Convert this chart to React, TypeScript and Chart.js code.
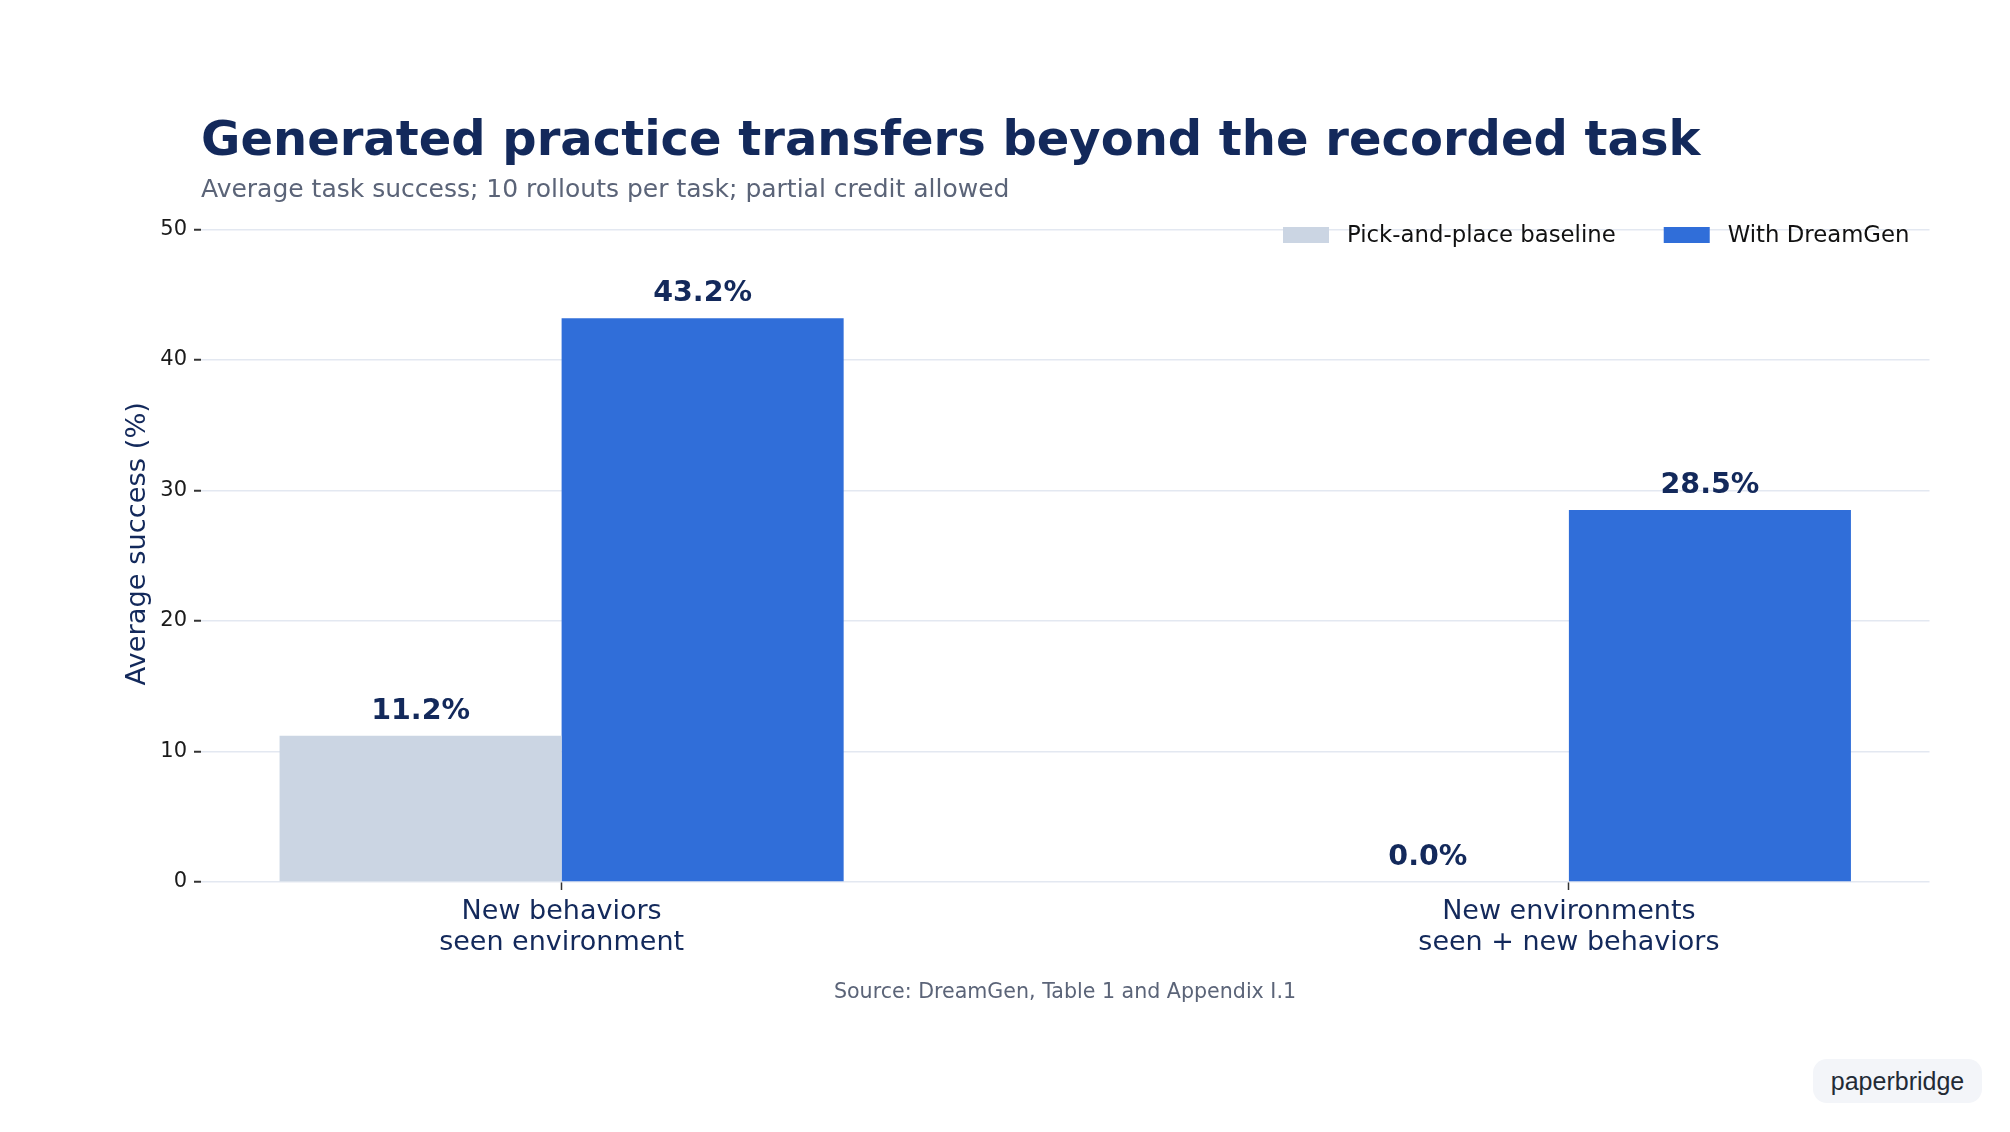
import React, { useEffect, useRef } from "react";
import { Chart, registerables } from "chart.js";

Chart.register(...registerables);

const categories: string[][] = [
  ["New behaviors", "seen environment"],
  ["New environments", "seen + new behaviors"],
];
const categoryPositions = [0, 1];
const seriesNames = ["Pick-and-place baseline", "With DreamGen"];
const baselineValues = [11.2, 0.0];
const dreamgenValues = [43.2, 28.5];
const yTicks = [0, 10, 20, 30, 40, 50];
const yAxisTitle = "Average success (%)";

const FONT = "'DejaVu Sans', sans-serif";
const NAVY = "#13295b";
const GREY_BAR = "#cbd5e3";
const BLUE_BAR = "#306ed9";

const valueLabels = {
  id: "valueLabels",
  afterDatasetsDraw(chart: any) {
    const ctx = chart.ctx;
    ctx.save();
    ctx.font = `bold 28.5px ${FONT}`;
    ctx.fillStyle = NAVY;
    ctx.textAlign = "center";
    ctx.textBaseline = "middle";
    chart.data.datasets.forEach((ds: any, di: number) => {
      const meta = chart.getDatasetMeta(di);
      meta.data.forEach((el: any, i: number) => {
        const v = ds.data[i].y;
        ctx.fillText(`${v.toFixed(1)}%`, el.x, el.y - 24.5);
      });
    });
    ctx.restore();
  },
};

const yTitle = {
  id: "yTitle",
  afterDraw(chart: any) {
    const ctx = chart.ctx;
    const area = chart.chartArea;
    ctx.save();
    ctx.font = `27.3px ${FONT}`;
    ctx.fillStyle = NAVY;
    ctx.textAlign = "center";
    ctx.textBaseline = "middle";
    ctx.translate(138, (area.top + area.bottom) / 2 - 12);
    ctx.rotate(-Math.PI / 2);
    ctx.fillText(yAxisTitle, 0, 0);
    ctx.restore();
  },
};

const topLegend = {
  id: "topLegend",
  afterDraw(chart: any) {
    const ctx = chart.ctx;
    const area = chart.chartArea;
    ctx.save();
    ctx.font = `22.8px ${FONT}`;
    ctx.textBaseline = "middle";
    ctx.textAlign = "left";
    const boxW = 46;
    const boxH = 16;
    const gapBoxText = 18;
    const gapItems = 48;
    const cy = area.top + 5.5;
    const items = chart.data.datasets.map((ds: any) => ({
      label: ds.label,
      color: ds.backgroundColor,
      w: ctx.measureText(ds.label).width,
    }));
    let total = 0;
    items.forEach((it: any, i: number) => {
      total += boxW + gapBoxText + it.w + (i < items.length - 1 ? gapItems : 0);
    });
    let x = area.right - 20 - total;
    items.forEach((it: any) => {
      ctx.fillStyle = it.color;
      ctx.fillRect(x, cy - boxH / 2, boxW, boxH);
      x += boxW + gapBoxText;
      ctx.fillStyle = "#111111";
      ctx.fillText(it.label, x, cy + 1.5);
      x += it.w + gapItems;
    });
    ctx.restore();
  },
};

export default function App() {
  const canvasRef = useRef<HTMLCanvasElement | null>(null);

  useEffect(() => {
    if (!canvasRef.current) return;
    Chart.defaults.font.family = FONT;
    const chart = new Chart(canvasRef.current, {
      type: "bar",
      data: {
        datasets: [
          {
            label: seriesNames[0],
            data: categoryPositions.map((x, i) => ({ x, y: baselineValues[i] })),
            backgroundColor: GREY_BAR,
            borderWidth: 0,
            categoryPercentage: 0.56,
            barPercentage: 1,
          },
          {
            label: seriesNames[1],
            data: categoryPositions.map((x, i) => ({ x, y: dreamgenValues[i] })),
            backgroundColor: BLUE_BAR,
            borderWidth: 0,
            categoryPercentage: 0.56,
            barPercentage: 1,
          },
        ],
      } as any,
      options: {
        animation: false,
        responsive: false,
        maintainAspectRatio: false,
        layout: { padding: { left: 110, right: 80.5, top: 229.5, bottom: 0 } },
        scales: {
          x: {
            type: "linear",
            min: -0.358,
            max: 1.358,
            offset: false,
            afterBuildTicks: (s: any) => {
              s.ticks = categoryPositions.map((v) => ({ value: v }));
            },
            afterFit: (s: any) => {
              s.height = 250;
            },
            ticks: {
              autoSkip: false,
              maxRotation: 0,
              minRotation: 0,
              padding: 6.5,
              color: NAVY,
              font: { size: 27, lineHeight: 1.16 },
              callback: (v: any) => categories[categoryPositions.indexOf(Number(v))],
            },
            grid: {
              offset: false,
              drawOnChartArea: false,
              drawTicks: true,
              tickLength: 8,
              tickColor: "#333333",
              tickWidth: 1.5,
            },
            border: { display: false },
          } as any,
          y: {
            min: 0,
            max: 50,
            afterBuildTicks: (s: any) => {
              s.ticks = yTicks.map((v) => ({ value: v }));
            },
            afterFit: (s: any) => {
              s.width = 91;
            },
            ticks: {
              color: "#1a1a1a",
              padding: 7,
              font: { size: 21 },
            },
            grid: {
              color: "#e3e8f1",
              lineWidth: 1.5,
              tickLength: 7,
              tickColor: "#333333",
              tickWidth: 2,
            },
            border: { display: false },
            title: { display: false },
          } as any,
        },
        plugins: {
          legend: { display: false },
          tooltip: { enabled: false },
        },
      } as any,
      plugins: [valueLabels, topLegend, yTitle],
    });
    return () => chart.destroy();
  }, []);

  const titleSize = 48;
  const subSize = 25;
  const srcSize = 20.6;

  return (
    <div
      style={{
        position: "absolute",
        left: 0,
        top: 0,
        width: 2010,
        height: 1132,
        background: "#ffffff",
        overflow: "hidden",
        fontFamily: FONT,
      }}
    >
      <canvas
        ref={canvasRef}
        width={2010}
        height={1132}
        style={{ position: "absolute", left: 0, top: 0, width: 2010, height: 1132 }}
      />
      <div
        style={{
          position: "absolute",
          left: 201,
          top: 155 - 0.846 * titleSize,
          fontSize: titleSize,
          lineHeight: `${titleSize}px`,
          fontWeight: "bold",
          color: NAVY,
          whiteSpace: "nowrap",
        }}
      >
        Generated practice transfers beyond the recorded task
      </div>
      <div
        style={{
          position: "absolute",
          left: 201,
          top: 197 - 0.846 * subSize,
          fontSize: subSize,
          lineHeight: `${subSize}px`,
          color: "#5b6478",
          whiteSpace: "nowrap",
        }}
      >
        Average task success; 10 rollouts per task; partial credit allowed
      </div>
      <div
        style={{
          position: "absolute",
          left: 1065 - 400,
          width: 800,
          textAlign: "center",
          top: 998 - 0.846 * srcSize,
          fontSize: srcSize,
          lineHeight: `${srcSize}px`,
          color: "#5b6478",
          whiteSpace: "nowrap",
        }}
      >
        Source: DreamGen, Table 1 and Appendix I.1
      </div>
      <div
        style={{
          position: "absolute",
          left: 1813,
          top: 1059,
          width: 169,
          height: 44,
          borderRadius: 14,
          background: "#f3f5f9",
          display: "flex",
          alignItems: "center",
          justifyContent: "center",
          fontFamily: "'Liberation Sans', Arial, sans-serif",
          fontSize: 25,
          color: "#222a35",
        }}
      >
        paperbridge
      </div>
    </div>
  );
}
